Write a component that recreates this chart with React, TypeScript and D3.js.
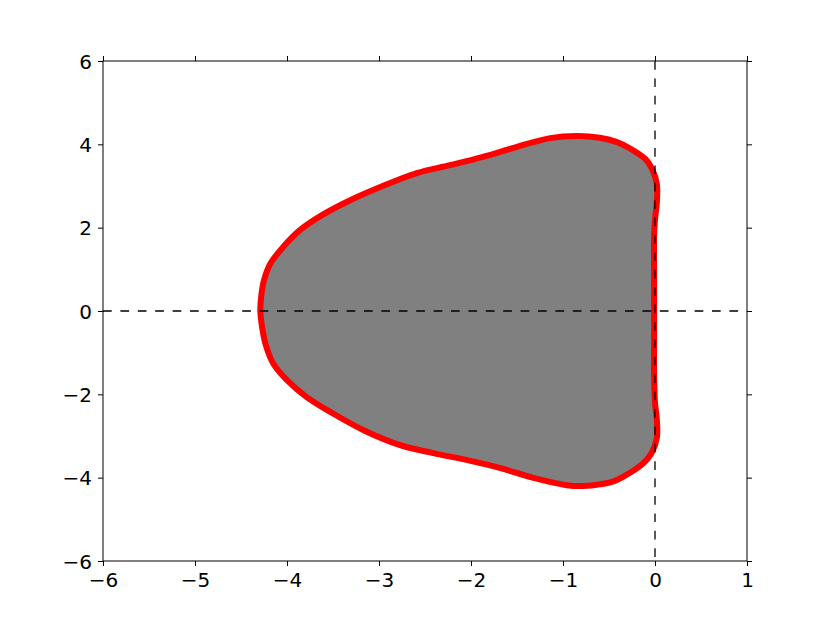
import React, { useEffect, useRef } from 'react';
import * as d3 from 'd3';

// boundary of the region (counter-clockwise from the right side)
const re = [
  -0.01, -0.01, -0.01, 0.0, 0.02, 0.02, -0.03, -0.1, -0.27, -0.42, -0.6, -0.85, -1.14, -1.5,
  -1.87, -2.23, -2.59, -2.98, -3.33, -3.62, -3.86, -4.04, -4.18, -4.25, -4.28, -4.29, -4.27,
  -4.23, -4.15, -4.0, -3.79, -3.5, -3.15, -2.77, -2.41, -2.04, -1.68, -1.33, -0.96, -0.78,
  -0.6, -0.42, -0.13, -0.04, 0.02, 0.02, 0.0, -0.01, -0.01,
];
const im = [
  0, 0.9, 1.78, 2.2, 2.6, 3.05, 3.4, 3.64, 3.9, 4.06, 4.16, 4.2, 4.15, 3.94, 3.7, 3.5, 3.31,
  2.98, 2.64, 2.3, 1.94, 1.54, 1.14, 0.74, 0.36, 0, -0.4, -0.82, -1.26, -1.66, -2.06, -2.46,
  -2.88, -3.22, -3.41, -3.58, -3.77, -4.0, -4.18, -4.2, -4.16, -4.06, -3.66, -3.42, -3.05,
  -2.6, -2.2, -1.5, -0.7,
];

const xTicks = [-6, -5, -4, -3, -2, -1, 0, 1];
const yTicks = [-6, -4, -2, 0, 2, 4, 6];

export default function App() {
  const ref = useRef<SVGSVGElement>(null);
  const width = 830,
    height = 623;
  const margin = { top: 61, right: 83, bottom: 62, left: 103 };

  useEffect(() => {
    const x = d3.scaleLinear().domain([-6, 1]).range([margin.left, width - margin.right]);
    const y = d3.scaleLinear().domain([-6, 6]).range([height - margin.bottom, margin.top]);

    const svg = d3.select(ref.current);
    svg.selectAll('*').remove();

    const pts: [number, number][] = re.map((r, i) => [r, im[i]]);
    const line = d3
      .line<[number, number]>()
      .x((d) => x(d[0]))
      .y((d) => y(d[1]))
      .curve(d3.curveCatmullRomClosed.alpha(0.5));

    svg
      .append('path')
      .attr('d', line(pts))
      .attr('fill', '#808080')
      .attr('stroke', '#ff0000')
      .attr('stroke-width', 6)
      .attr('stroke-linejoin', 'round');

    // dashed zero lines
    svg
      .append('line')
      .attr('x1', x(-6))
      .attr('x2', x(1))
      .attr('y1', y(0))
      .attr('y2', y(0))
      .attr('stroke', '#000')
      .attr('stroke-width', 1.3)
      .attr('stroke-dasharray', '8.7,8.7');
    svg
      .append('line')
      .attr('x1', x(0))
      .attr('x2', x(0))
      .attr('y1', y(6))
      .attr('y2', y(-6))
      .attr('stroke', '#000')
      .attr('stroke-width', 1.3)
      .attr('stroke-dasharray', '8.7,8.7');

    const font = 'DejaVu Sans';
    const fmt = (v: number) => (v < 0 ? '\u2212' + Math.abs(v) : String(v));

    svg
      .append('g')
      .attr('transform', `translate(0,${height - margin.bottom})`)
      .call(d3.axisBottom(x).tickValues(xTicks).tickSize(5).tickPadding(7).tickFormat((d) => fmt(+d)))
      .call((g) => g.select('.domain').remove())
      .call((g) => g.selectAll('text').attr('font-family', font).attr('font-size', 20).attr('fill', '#000'));
    svg
      .append('g')
      .attr('transform', `translate(0,${margin.top})`)
      .call(d3.axisTop(x).tickValues(xTicks).tickSize(5).tickFormat(() => ''))
      .call((g) => g.select('.domain').remove());
    svg
      .append('g')
      .attr('transform', `translate(${margin.left},0)`)
      .call(d3.axisLeft(y).tickValues(yTicks).tickSize(5).tickPadding(6).tickFormat((d) => fmt(+d)))
      .call((g) => g.select('.domain').remove())
      .call((g) =>
        g.selectAll('text').attr('font-family', font).attr('font-size', 20).attr('fill', '#000').attr('dy', '0.35em')
      );
    svg
      .append('g')
      .attr('transform', `translate(${width - margin.right},0)`)
      .call(d3.axisRight(y).tickValues(yTicks).tickSize(5).tickFormat(() => ''))
      .call((g) => g.select('.domain').remove());

    svg.selectAll('.tick line').attr('stroke', '#000');

    svg
      .append('rect')
      .attr('x', margin.left)
      .attr('y', margin.top)
      .attr('width', width - margin.left - margin.right)
      .attr('height', height - margin.top - margin.bottom)
      .attr('fill', 'none')
      .attr('stroke', '#000')
      .attr('stroke-width', 1);
  }, []);

  return (
    <svg
      ref={ref}
      width={width}
      height={height}
      viewBox={`0 0 ${width} ${height}`}
      style={{ position: 'absolute', left: 0, top: 0, background: '#fff' }}
    />
  );
}
